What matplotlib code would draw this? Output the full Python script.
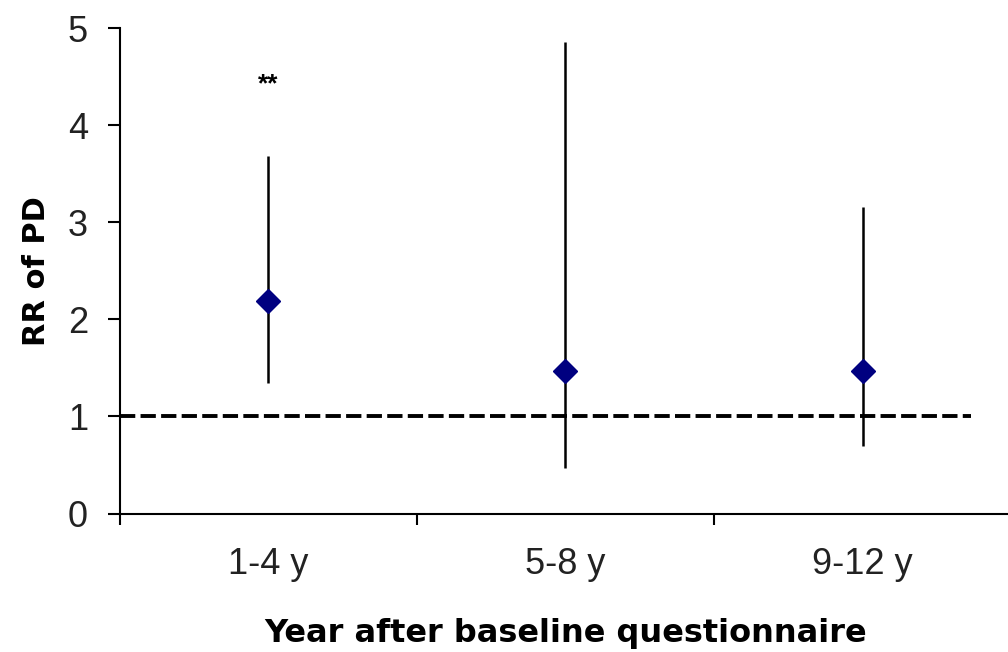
import matplotlib.pyplot as plt
import numpy as np

plt.rcParams['lines.scale_dashes'] = False

# values
periods = ['1-4 y', '5-8 y', '9-12 y']
rr = [2.19, 1.47, 1.47]
ci_low = [1.34, 0.47, 0.70]
ci_high = [3.68, 4.86, 3.16]
ref_value = 1.0
signif = ['**', '', '']
signif_y = 4.42

fig = plt.figure(figsize=(10.08, 6.52), dpi=100)
ax = fig.add_axes([0.119, 0.2124, 0.884, 0.7442])

x = np.arange(len(periods)) + 0.5
yerr = [np.array(rr) - np.array(ci_low), np.array(ci_high) - np.array(rr)]

ax.axhline(ref_value, xmin=0, xmax=0.9555, color='black', lw=2.8,
           dashes=(11, 3.8), zorder=1)
ax.errorbar(x, rr, yerr=yerr, fmt='D', color='black', ecolor='black',
            elinewidth=1.8, capsize=0, markersize=12,
            markerfacecolor='#000080', markeredgecolor='#000080', zorder=3)

for xi, s in zip(x, signif):
    if s:
        ax.text(xi, signif_y, s, ha='center', va='center', fontsize=19,
                family='Liberation Sans', fontweight='bold')

ax.set_xlim(0, len(periods))
ax.set_ylim(0, 5)
ax.set_yticks(range(0, 6))
ax.set_xticks(range(0, len(periods) + 1))
ax.set_xticklabels([])
ax.set_xticks(x, minor=True)
ax.set_xticklabels(periods, minor=True)

for sp in ['top', 'right']:
    ax.spines[sp].set_visible(False)
for sp in ['left', 'bottom']:
    ax.spines[sp].set_linewidth(1.5)

ax.tick_params(axis='y', which='major', length=9, width=1.5, pad=14,
               labelsize=26, labelcolor='#222222')
ax.tick_params(axis='x', which='major', length=8, width=1.5)
ax.tick_params(axis='x', which='minor', length=0, pad=24, labelsize=26,
               labelcolor='#222222')
for lab in ax.get_yticklabels() + ax.get_xticklabels(minor=True):
    lab.set_family('Liberation Sans')

ax.set_ylabel('RR of PD', fontsize=22, fontweight='bold', labelpad=12)
ax.set_xlabel('Year after baseline questionnaire', fontsize=23,
              fontweight='bold', labelpad=26)

fig.savefig('out.png', dpi=100)
